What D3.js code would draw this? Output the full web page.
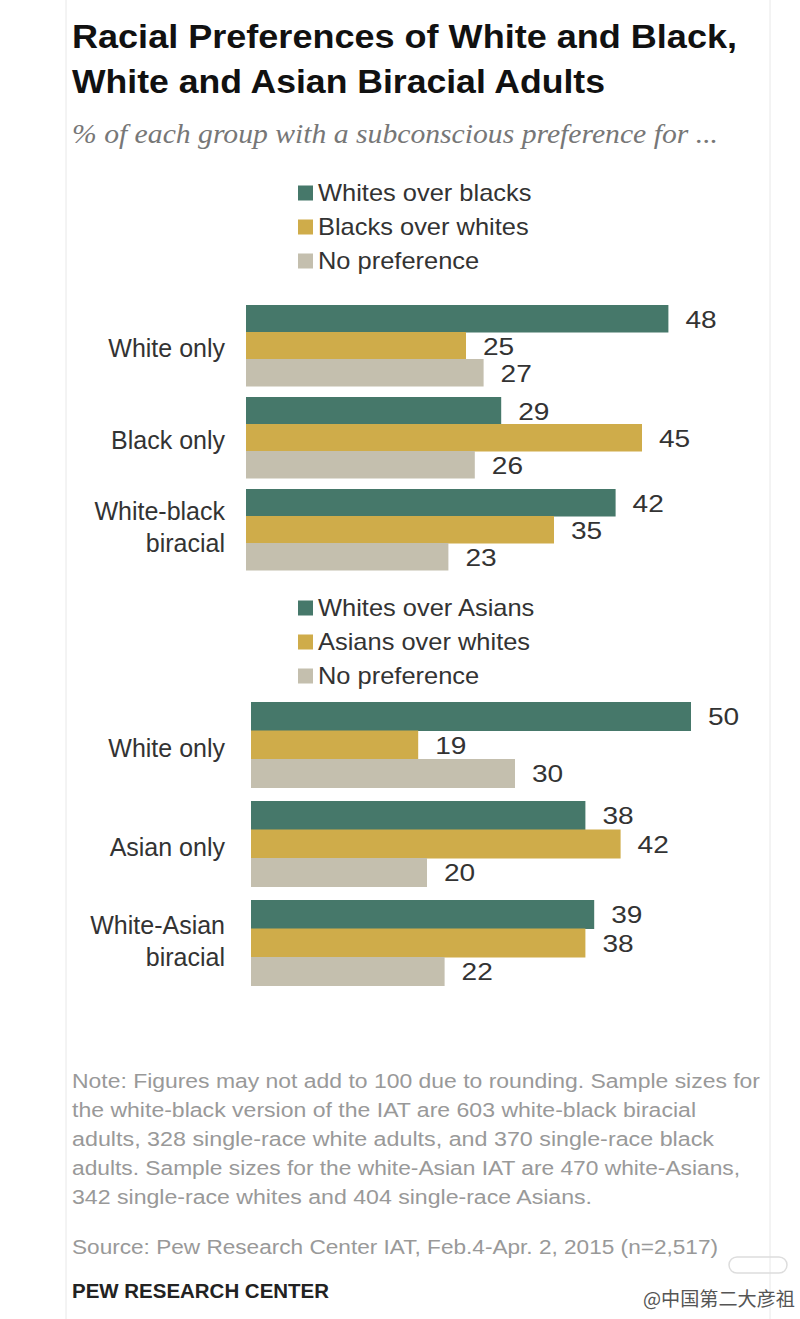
<!DOCTYPE html>
<html>
<head>
<meta charset="utf-8">
<script src="https://cdn.jsdelivr.net/npm/d3@7"></script>
<style>
  body { margin: 0; background: #fff; }
  svg { display: block; }
  text { font-family: "Liberation Sans", Arial, sans-serif; }
</style>
</head>
<body>
<svg id="chart"></svg>
<script>
// data
var groupsBW = ["White only", "Black only", "White-black biracial"];
var seriesBW = ["Whites over blacks", "Blacks over whites", "No preference"];
var valuesBW = [[48, 25, 27], [29, 45, 26], [42, 35, 23]];

var groupsWA = ["White only", "Asian only", "White-Asian biracial"];
var seriesWA = ["Whites over Asians", "Asians over whites", "No preference"];
var valuesWA = [[50, 19, 30], [38, 42, 20], [39, 38, 22]];

var colors = ["#46786a", "#cfac4a", "#c4bfae"];

var noteLines = [
  "Note: Figures may not add to 100 due to rounding. Sample sizes for",
  "the white-black version of the IAT are 603 white-black biracial",
  "adults, 328 single-race white adults, and 370 single-race black",
  "adults. Sample sizes for the white-Asian IAT are 470 white-Asians,",
  "342 single-race whites and 404 single-race Asians."
];
var noteWidths = [688, 624, 642, 668, 520];

var W = 800, H = 1319;
var svg = d3.select("#chart").attr("width", W).attr("height", H);

// squeeze a text node to a width (source font is condensed)
function fit(sel, w) {
  sel.each(function() {
    d3.select(this).attr("textLength", w).attr("lengthAdjust", "spacingAndGlyphs");
  });
}
// widen by a factor (the picture is stretched sideways)
function wide(sel, k) {
  sel.each(function() {
    var w = this.getComputedTextLength() * k;
    d3.select(this).attr("textLength", w).attr("lengthAdjust", "spacingAndGlyphs");
  });
}

// faint frame of the card
svg.append("line").attr("x1", 66).attr("x2", 66).attr("y1", 0).attr("y2", H)
  .style("stroke", "#e8e8e8");
svg.append("line").attr("x1", 770).attr("x2", 770).attr("y1", 0).attr("y2", H)
  .style("stroke", "#e8e8e8");

// title + subtitle
svg.append("text").attr("x", 72).attr("y", 48)
  .style("font-size", "33px").style("font-weight", "bold").style("fill", "#111")
  .text("Racial Preferences of White and Black,").call(fit, 665);
svg.append("text").attr("x", 72).attr("y", 93)
  .style("font-size", "33px").style("font-weight", "bold").style("fill", "#111")
  .text("White and Asian Biracial Adults").call(fit, 533);
svg.append("text").attr("x", 72).attr("y", 143)
  .style("font-family", "'Liberation Serif', 'DejaVu Serif', serif")
  .style("font-style", "italic").style("font-size", "28px").style("fill", "#777")
  .text("% of each group with a subconscious  preference for ...").call(fit, 646);

function drawPanel(groups, series, values, legendY, x0, yTop, step, barH) {
  var g = svg.append("g");

  // legend
  var leg = g.selectAll(".leg").data(series).enter().append("g")
    .attr("transform", function(d, i) { return "translate(298," + (legendY + i * 34) + ")"; });
  leg.append("rect").attr("x", 0).attr("y", -7.5).attr("width", 15).attr("height", 15)
    .style("fill", function(d, i) { return colors[i]; });
  leg.append("text").attr("x", 20).attr("y", 0).attr("dy", "0.35em")
    .style("font-size", "24px").style("fill", "#333")
    .text(function(d) { return d; })
    .call(wide, 1.06);

  var x = d3.scaleLinear().domain([0, 50]).range([x0, x0 + 440]);
  var bw = barH * 3;
  var pad = 1 - bw / step;
  var y = d3.scaleBand().domain(groups)
    .range([yTop, yTop + step * (groups.length - pad)])
    .paddingInner(pad).paddingOuter(0);
  var ys = d3.scaleBand().domain(d3.range(series.length)).range([0, y.bandwidth()]);

  var grp = g.selectAll(".grp").data(groups).enter().append("g")
    .attr("transform", function(d) { return "translate(0," + y(d) + ")"; });

  grp.selectAll("rect").data(function(d, i) { return values[i]; }).enter().append("rect")
    .attr("x", x(0))
    .attr("y", function(d, j) { return ys(j); })
    .attr("width", function(d) { return x(d) - x(0); })
    .attr("height", ys.bandwidth() + 0.5)
    .style("fill", function(d, j) { return colors[j]; });

  grp.selectAll(".val").data(function(d, i) { return values[i]; }).enter().append("text")
    .attr("x", function(d) { return x(d) + 17; })
    .attr("y", function(d, j) { return ys(j) + ys.bandwidth() / 2 + 1; })
    .attr("dy", "0.35em")
    .style("font-size", "23px").style("fill", "#333")
    .text(function(d) { return d; })
    .call(wide, 1.22);

  // category labels, two lines for the biracial ones
  grp.each(function(d) {
    var lines = d.indexOf("biracial") > 0 ? [d.replace(" biracial", ""), "biracial"] : [d];
    var mid = y.bandwidth() / 2 + (lines.length > 1 ? -2 : 3);
    d3.select(this).selectAll(".cat").data(lines).enter().append("text")
      .attr("x", 225)
      .attr("y", function(t, k) { return mid + (k - (lines.length - 1) / 2) * 32; })
      .attr("dy", "0.35em")
      .attr("text-anchor", "end")
      .style("font-size", "25px").style("fill", "#333")
      .text(function(t) { return t; });
  });
}

drawPanel(groupsBW, seriesBW, valuesBW, 193, 246, 305, 92, 27);
drawPanel(groupsWA, seriesWA, valuesWA, 608, 251, 702, 99, 28.5);

// notes
svg.selectAll(".note").data(noteLines).enter().append("text")
  .attr("x", 72).attr("y", function(d, i) { return 1088 + i * 29; })
  .style("font-size", "20px").style("fill", "#999")
  .text(function(d) { return d; })
  .each(function(d, i) { d3.select(this).call(fit, noteWidths[i]); });

svg.append("text").attr("x", 72).attr("y", 1254)
  .style("font-size", "20px").style("fill", "#999")
  .text("Source: Pew Research Center IAT, Feb.4-Apr. 2, 2015 (n=2,517)").call(fit, 646);

svg.append("text").attr("x", 72).attr("y", 1298)
  .style("font-size", "20px").style("font-weight", "bold").style("fill", "#222")
  .text("PEW RESEARCH CENTER").call(fit, 257);

// weibo watermark
svg.append("rect").attr("x", 729).attr("y", 1257).attr("width", 58).attr("height", 16)
  .attr("rx", 8).style("fill", "none").style("stroke", "#ddd").style("stroke-width", 1.5);
svg.append("text").attr("x", 643).attr("y", 1306)
  .style("font-family", "'Noto Sans CJK SC', sans-serif")
  .style("font-size", "19px").style("fill", "#555")
  .text("@中国第二大彦祖").call(fit, 152);
</script>
</body>
</html>
